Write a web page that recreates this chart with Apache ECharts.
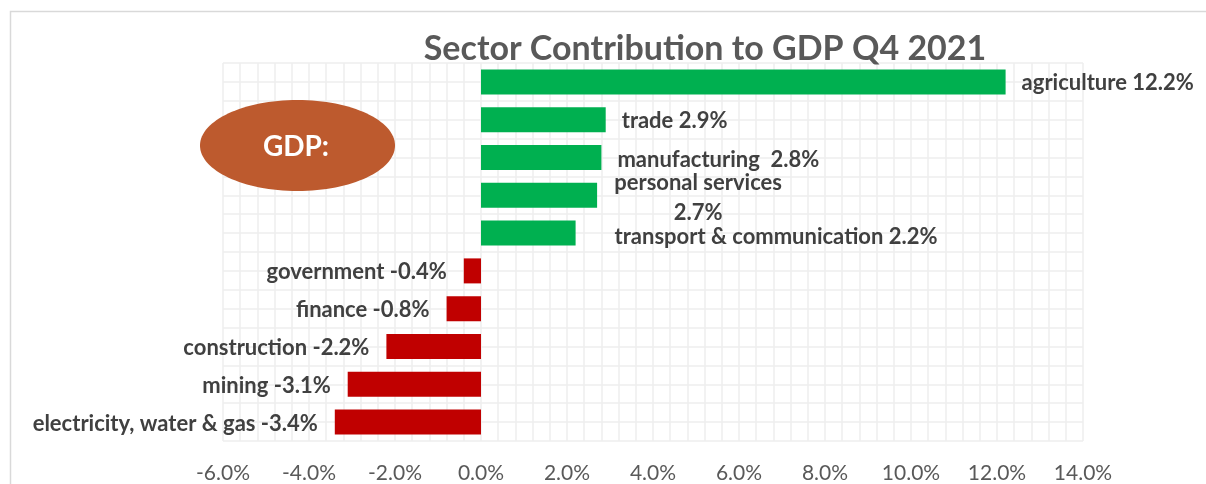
<!DOCTYPE html>
<html>
<head>
<meta charset="utf-8">
<title>Sector Contribution to GDP Q4 2021</title>
<script src="https://cdn.jsdelivr.net/npm/echarts@6/dist/echarts.min.js"></script>
<style>
  html, body { margin: 0; padding: 0; background: #ffffff; }
  #chart { width: 1206px; height: 484px; }
</style>
</head>
<body>
<div id="chart"></div>
<script>
// Sector contributions to GDP growth, percentage points, Q4 2021
const sectors = [
  'agriculture', 'trade', 'manufacturing', 'personal services',
  'transport & communication', 'government', 'finance',
  'construction', 'mining', 'electricity, water & gas'
];
const contribution = [12.2, 2.9, 2.8, 2.7, 2.2, -0.4, -0.8, -2.2, -3.1, -3.4];
// text placed between the sector name and its value in each data label
const labelJoin = [' ', ' ', '  ', '\n', ' ', ' ', ' ', ' ', ' ', ' '];
const axisTicks = [-6, -4, -2, 0, 2, 4, 6, 8, 10, 12, 14];
const titleText = 'Sector Contribution to GDP Q4 2021';
const badgeText = 'GDP:';

const FONT = 'Lato, "Open Sans", sans-serif';
const GREEN = '#00b050';
const RED = '#c00000';
const GRID_LINE = { color: '#eeeeee', width: 1.5 };

// hand-placed labels that sit apart from their bars
const labelTweaks = {
  'personal services': { align: 'center', offset: [85, 3], lineHeight: 30 },
  'transport & communication': { offset: [23, 4] },
  'manufacturing': { offset: [0, 2.5] }
};

const barData = contribution.map((v, i) => {
  const name = sectors[i];
  const positive = v >= 0;
  const label = Object.assign({
    position: positive ? 'right' : 'left',
    distance: positive ? 16 : 17,
    offset: [0, 1.5],
    formatter: name + labelJoin[i] + v.toFixed(1) + '%'
  }, labelTweaks[name] || {});
  return {
    value: v,
    itemStyle: { color: positive ? GREEN : RED },
    label: label
  };
});

const chart = echarts.init(document.getElementById('chart'), null, { renderer: 'canvas' });

chart.setOption({
  backgroundColor: '#ffffff',
  animation: false,
  grid: { left: 223, right: 123, top: 63, bottom: 41, containLabel: false },
  xAxis: {
    type: 'value',
    min: axisTicks[0],
    max: axisTicks[axisTicks.length - 1],
    interval: axisTicks[1] - axisTicks[0],
    axisLine: { show: false },
    axisTick: { show: false },
    axisLabel: {
      margin: 22,
      fontFamily: FONT,
      fontSize: 21,
      color: '#595959',
      formatter: v => v.toFixed(1) + '%'
    },
    splitLine: { show: true, lineStyle: GRID_LINE },
    minorTick: { show: false, splitNumber: 5 },
    minorSplitLine: { show: true, lineStyle: GRID_LINE }
  },
  yAxis: [
    {
      type: 'category',
      data: sectors,
      inverse: true,
      axisLine: { show: false },
      axisTick: { show: false },
      axisLabel: { show: false },
      splitLine: { show: false }
    },
    {
      // half-category rules across the plot
      type: 'value',
      min: 0,
      max: sectors.length * 2,
      interval: 1,
      axisLine: { show: false },
      axisTick: { show: false },
      axisLabel: { show: false },
      splitLine: { show: true, lineStyle: GRID_LINE }
    }
  ],
  series: [
    {
      type: 'bar',
      yAxisIndex: 0,
      barWidth: 25,
      data: barData,
      label: {
        show: true,
        fontFamily: FONT,
        fontSize: 22,
        fontWeight: 'bold',
        color: '#404040'
      }
    }
  ],
  graphic: [
    {
      type: 'rect',
      z: -10,
      silent: true,
      shape: { x: 10.5, y: 11.5, width: 1400, height: 600 },
      style: { fill: null, stroke: '#d9d9d9', lineWidth: 1.5 }
    },
    {
      type: 'text',
      z: 100,
      x: 705,
      y: 49,
      style: {
        text: titleText,
        fontFamily: FONT,
        fontSize: 34,
        fontWeight: 'bold',
        fill: '#595959',
        textAlign: 'center',
        textVerticalAlign: 'middle'
      }
    },
    {
      type: 'ellipse',
      z: 100,
      shape: { cx: 297.5, cy: 145.5, rx: 97.5, ry: 45.5 },
      style: { fill: '#bd5a2e' }
    },
    {
      type: 'text',
      z: 101,
      x: 296,
      y: 147,
      style: {
        text: badgeText,
        fontFamily: FONT,
        fontSize: 28,
        fontWeight: 'bold',
        fill: '#ffffff',
        textAlign: 'center',
        textVerticalAlign: 'middle'
      }
    }
  ]
});
</script>
</body>
</html>
